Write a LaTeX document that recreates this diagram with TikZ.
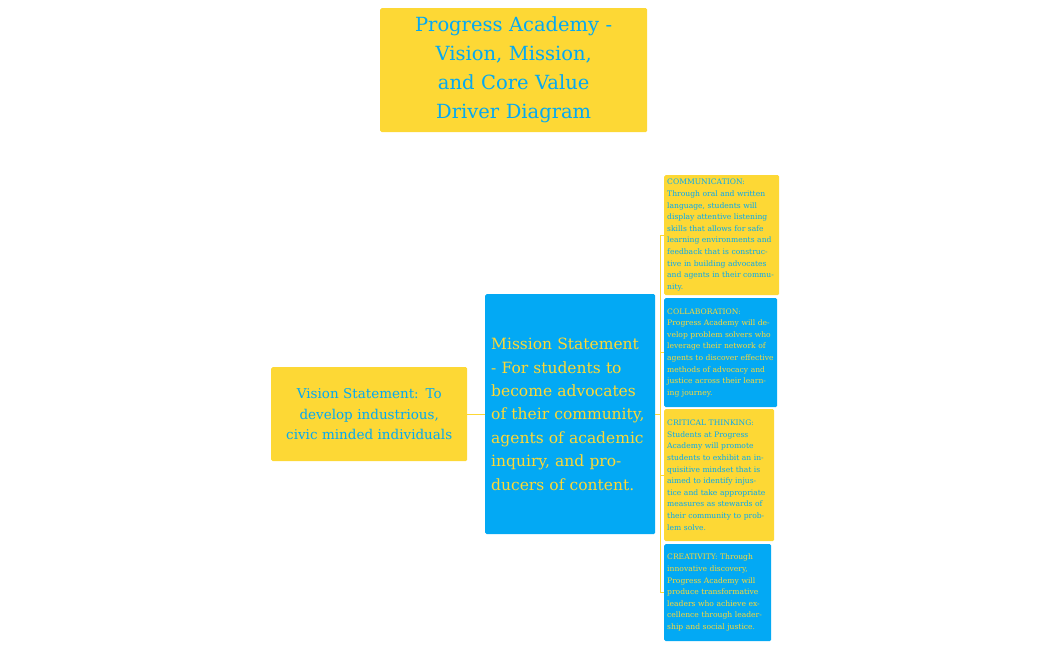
\documentclass[tikz,border=0pt]{standalone}
\usepackage{fontspec}
\setmainfont{DejaVu Serif}
\definecolor{yel}{HTML}{FDD835}
\definecolor{blu}{HTML}{03A9F4}
\begin{document}
\begin{tikzpicture}[x=1pt,y=-1pt,
  ybox/.style={fill=yel,text=blu,rounded corners=1.5pt,anchor=north west,inner sep=3pt},
  bbox/.style={fill=blu,text=yel,rounded corners=1.5pt,anchor=north west,inner sep=3pt},
  small/.style={font=\fontsize{7.6}{11.6}\selectfont,align=left},
  conn/.style={draw=yel,line width=0.8pt}]
\useasboundingbox (0,0) rectangle (1050,650);
\node[ybox,minimum width=267pt,minimum height=124pt,text width=250pt,align=center,font=\fontsize{19.5}{29}\selectfont] (title) at (380,8) {Progress Academy -\\ Vision, Mission, and Core Value Driver Diagram};
\node[ybox,minimum width=196pt,minimum height=94pt,text width=170pt,align=center,font=\fontsize{13.5}{20.5}\selectfont] (vision) at (271,367) {Vision Statement: To develop industrious, civic minded individuals};
\node[bbox,minimum width=170pt,minimum height=240pt,text width=158pt,align=left,inner xsep=6pt,font=\fontsize{15.5}{23.4}\selectfont] (mission) at (485,294) {Mission Statement - For students to become advocates of their community, agents of academic inquiry, and producers of content.};
\node[ybox,small,minimum width=115pt,minimum height=120pt,text width=109pt] (comm) at (664,175) {COMMUNICATION: Through oral and written language, students will display attentive listening skills that allows for safe learning environments and feedback that is constructive in building advocates and agents in their community.};
\node[bbox,small,minimum width=113pt,minimum height=109pt,text width=107pt] (collab) at (664,298) {COLLABORATION: Progress Academy will develop problem solvers who leverage their network of agents to discover effective methods of advocacy and justice across their learning journey.};
\node[ybox,small,minimum width=110pt,minimum height=132pt,text width=104pt] (crit) at (664,409) {CRITICAL THINKING: Students at Progress Academy will promote students to exhibit an inquisitive mindset that is aimed to identify injustice and take appropriate measures as stewards of their community to problem solve.};
\node[bbox,small,minimum width=107pt,minimum height=97pt,text width=101pt] (creat) at (664,544) {CREATIVITY: Through innovative discovery, Progress Academy will produce transformative leaders who achieve excellence through leadership and social justice.};
\draw[conn] (vision.east) -- (mission.west);
\coordinate (j) at ([xshift=5pt]mission.east);
\draw[conn] (mission.east) -- (j);
\draw[conn] (comm.west) -| (j) |- (creat.west);
\draw[conn] (collab.west) -- (collab.west -| j);
\draw[conn] (crit.west) -- (crit.west -| j);
\end{tikzpicture}
\end{document}
